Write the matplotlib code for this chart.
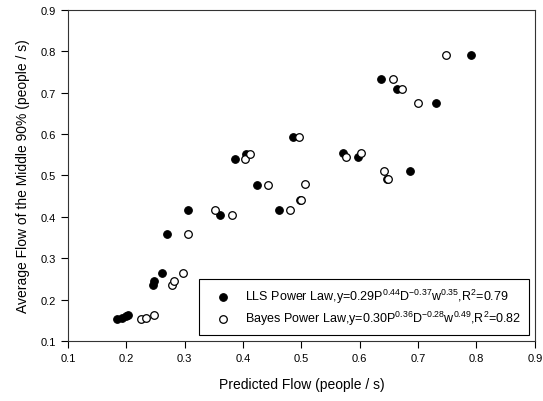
import matplotlib
matplotlib.use("Agg")
import matplotlib.pyplot as plt

plt.rcParams['font.family'] = ['Liberation Sans', 'DejaVu Sans']
plt.rcParams['mathtext.fontset'] = 'custom'
plt.rcParams['mathtext.rm'] = 'Liberation Sans'
plt.rcParams['mathtext.it'] = 'Liberation Sans'
plt.rcParams['mathtext.default'] = 'rm'

lls_pred = [0.790, 0.636, 0.664, 0.730, 0.486, 0.387, 0.406, 0.571, 0.597, 0.686,
            0.424, 0.305, 0.360, 0.462, 0.269, 0.262, 0.245, 0.247, 0.185, 0.192,
            0.199, 0.203, 0.497, 0.646]
lls_obs = [0.790, 0.733, 0.709, 0.676, 0.594, 0.540, 0.552, 0.555, 0.545, 0.510,
           0.476, 0.416, 0.405, 0.416, 0.359, 0.264, 0.236, 0.245, 0.153, 0.157,
           0.160, 0.163, 0.440, 0.491]

bayes_pred = [0.7475, 0.657, 0.673, 0.700, 0.496, 0.404, 0.412, 0.576, 0.602, 0.642,
              0.442, 0.352, 0.381, 0.481, 0.305, 0.298, 0.278, 0.282, 0.225, 0.234,
              0.247, 0.507, 0.499, 0.648]
bayes_obs = [0.790, 0.733, 0.709, 0.676, 0.594, 0.540, 0.552, 0.545, 0.555, 0.510,
             0.476, 0.416, 0.405, 0.416, 0.359, 0.264, 0.235, 0.246, 0.153, 0.157,
             0.163, 0.479, 0.440, 0.491]

etiqueta_lls = r'LLS Power Law,y=0.29P$^{0.44}$D$^{-0.37}$w$^{0.35}$,R$^{2}$=0.79'
etiqueta_bayes = r'Bayes Power Law,y=0.30P$^{0.36}$D$^{-0.28}$w$^{0.49}$,R$^{2}$=0.82'

fig = plt.figure(figsize=(5.43, 4.02), dpi=100)
ax = fig.add_axes([0.125, 0.149, 0.86, 0.824])

ax.scatter(lls_pred, lls_obs, s=30, c='black', edgecolors='black', linewidths=0.8,
           label=etiqueta_lls, zorder=3)
ax.scatter(bayes_pred, bayes_obs, s=30, c='white', edgecolors='black', linewidths=0.9,
           label=etiqueta_bayes, zorder=4)

ax.set_xlim(0.1, 0.9)
ax.set_ylim(0.1, 0.9)
ax.set_xticks([0.1, 0.2, 0.3, 0.4, 0.5, 0.6, 0.7, 0.8, 0.9])
ax.set_yticks([0.1, 0.2, 0.3, 0.4, 0.5, 0.6, 0.7, 0.8, 0.9])
ax.tick_params(direction='out', length=5, width=0.8, labelsize=8, colors='black')

for sp in ax.spines.values():
    sp.set_color('#333333')
    sp.set_linewidth(0.8)

ax.set_xlabel('Predicted Flow (people / s)', fontsize=10, labelpad=10)
ax.set_ylabel('Average Flow of the Middle 90% (people / s)', fontsize=10, labelpad=8)

leg = ax.legend(loc='lower right', fontsize=9, frameon=True, fancybox=False,
                edgecolor='black', framealpha=1, borderpad=0.65, handletextpad=0.5,
                borderaxespad=0.45, labelspacing=0.3, handlelength=2.5, scatterpoints=1)
leg.get_frame().set_linewidth(0.8)

plt.savefig('out.png', dpi=100)
